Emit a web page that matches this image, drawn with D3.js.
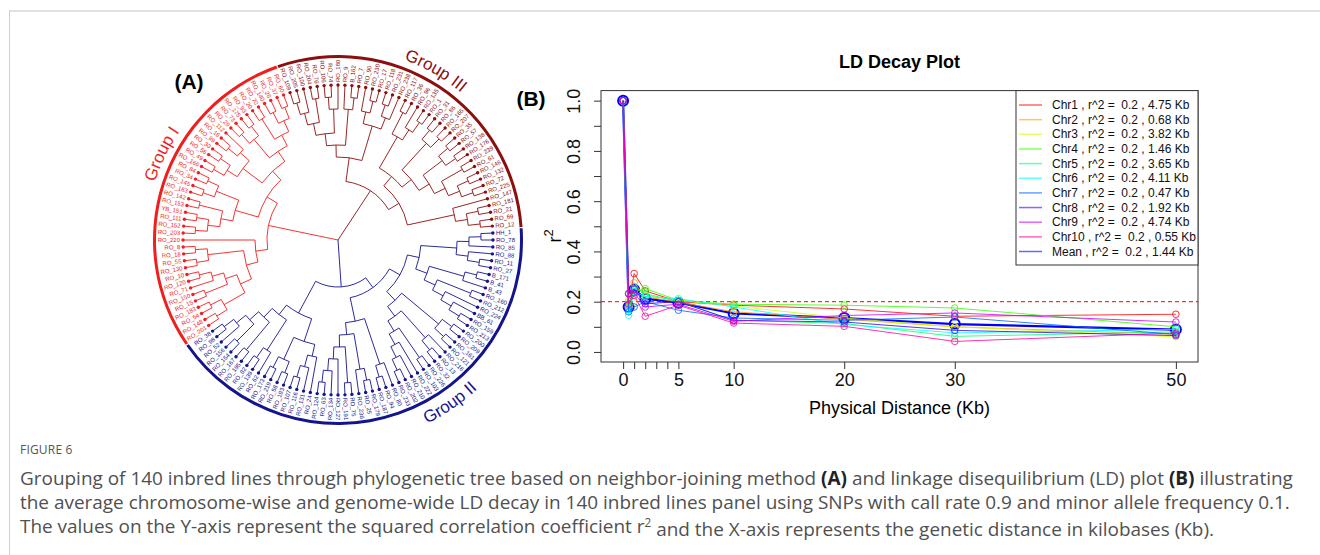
<!DOCTYPE html>
<html>
<head>
<meta charset="utf-8">
<script src="https://cdn.jsdelivr.net/npm/d3@7"></script>
<style>
  html, body { margin: 0; padding: 0; background: #fff; }
  svg { display: block; }
</style>
</head>
<body>
<svg id="fig" width="1320" height="555" font-family="Liberation Sans, Arial, Helvetica, sans-serif"></svg>
<script>
// ===== Panel A: neighbor-joining tree, clades in clockwise leaf order =====
const cladeIIIa = "(((((RO_109,RO_205),RO_100),(RO_204,RO_76)),((RO_106,RO_74),RO_180)),(RO_9,(B_162,RO_7)))";
const cladeIIIb = "((RO_90,(RO_230,RO_17)),((RO_118,RO_231),RO_238))";
const cladeIIIc = "(((RO_117,RO_36),(RO_96,(RO_135,RO_1))),(((RO_31,RO_86),(RO_165,RO_207)),(((RO_35,RO_57),(RO_138,RO_176)),((RO_239,RO_61),((RO_146,RO_132),(RO_72,RO_225))))))";
const cladeIIId = "(RO_147,((RO_181,RO_21),(RO_69,RO_12)))";

const cladeIIa = "((((HH_1,RO_78),RO_85),(RO_88,(RO_11,RO_27))),(((B_171,B_41),B_43),((RO_160,RO_212),(RO_224,(BB_61,(RO_159,RO_213))))))";
const cladeIIb = "(((RO_200,RO_209),(RO_161,RO_121)),((RO_216,(RO_13,RO_32)),((RO_226,RO_103),(RO_222,(RO_210,(RO_202,RO_233))))))";
const cladeIIc = "((RO_80,(RO_94,RO_187)),(((RO_179,RO_25),RO_236),((RO_75,RO_191),(RO_127,(RO_134,(RO_63,RO_124))))))";
const cladeIId = "(((RO_24,(RO_131,(RO_116,RO_107))),((RO_193,RO_58),(RO_219,RO_173))),((RO_62,(RO_139,RO_82)),((RO_195,RO_167),((RO_154,RO_156),(RO_52,(RO_98,RO_38))))))";

const cladeIa = "(((((RO_201,RO_148),(RO_54,RO_183)),((RO_15,RO_150),(RO_71,(RO_120,RO_10)))),((RO_130,RO_55),(RO_18,RO_8))),RO_220)";
const cladeIb = "((((RO_203,RO_152),(RO_111,YB_151)),(RO_153,RO_142)),((RO_163,RO_145),(RO_34,RO_84)))";
const cladeIc = "((((RO_166,RO_49),(RO_56,RO_30)),((RO_99,RO_16),RO_112)),(((RO_29,RO_73),(RO_175,RO_93)),((RO_20,RO_70),((RO_140,RO_26),(RO_37,RO_60)))))";

const groupNames = ["Group III", "Group II", "Group I"];
const groupColors = ["#8c0f0f", "#14148c", "#f01e1e"];
const groupNewick = [
  `((${cladeIIIa},${cladeIIIb}),(${cladeIIIc},${cladeIIId}))`,
  `(((${cladeIIa},${cladeIIb}),${cladeIIc}),${cladeIId})`,
  `(${cladeIa},(${cladeIb},${cladeIc}))`
];

// ===== Panel B: LD decay (r^2 against physical distance, Kb) =====
const distanceKb = [0, 0.5, 1, 2, 5, 10, 20, 30, 50];
const chrNames = ["Chr1", "Chr2", "Chr3", "Chr4", "Chr5", "Chr6", "Chr7", "Chr8", "Chr9", "Chr10"];
const chrColors = ["#FF0000", "#FF9900", "#CCFF00", "#33FF00", "#00FF66", "#00FFFF", "#0066FF", "#3300FF", "#CC00FF", "#FF0099"];
const chr1R2  = [1, 0.190, 0.312, 0.243, 0.200, 0.186, 0.171, 0.142, 0.150];
const chr2R2  = [1, 0.200, 0.275, 0.220, 0.198, 0.160, 0.130, 0.100, 0.070];
const chr3R2  = [1, 0.210, 0.200, 0.225, 0.205, 0.183, 0.135, 0.100, 0.060];
const chr4R2  = [1, 0.180, 0.240, 0.252, 0.205, 0.190, 0.186, 0.175, 0.100];
const chr5R2  = [1, 0.170, 0.260, 0.232, 0.200, 0.126, 0.113, 0.062, 0.080];
const chr6R2  = [1, 0.146, 0.240, 0.220, 0.212, 0.179, 0.109, 0.076, 0.090];
const chr7R2  = [1, 0.160, 0.179, 0.200, 0.166, 0.135, 0.126, 0.139, 0.070];
const chr8R2  = [1, 0.232, 0.250, 0.192, 0.200, 0.126, 0.119, 0.086, 0.065];
const chr9R2  = [1, 0.232, 0.235, 0.179, 0.190, 0.122, 0.145, 0.155, 0.119];
const chr10R2 = [1, 0.190, 0.225, 0.142, 0.186, 0.115, 0.102, 0.042, 0.075];
const meanR2  = [1, 0.179, 0.248, 0.212, 0.196, 0.153, 0.135, 0.111, 0.089];
const decayKb = ["4.75", "0.68", "3.82", "1.46", "3.65", "4.11", "0.47", "1.92", "4.74", "0.55"];
const meanDecayKb = "1.44";
const r2Threshold = 0.2;
const xTickValues = [0, 1, 2, 3, 4, 5, 10, 20, 30, 50];
const xTickLabels = [0, 5, 10, 20, 30, 50];
const yTickValues = [0, 0.1, 0.2, 0.3, 0.4, 0.5, 0.6, 0.7, 0.8, 0.9, 1.0];
const yTickLabels = [0, 0.2, 0.4, 0.6, 0.8, 1.0];

// ===== Caption =====
const figureLabel = "FIGURE 6";
const captionLines = [
  [["Grouping of 140 inbred lines through phylogenetic tree based on neighbor-joining method ", 0], ["(A)", 1],
   [" and linkage disequilibrium (LD) plot ", 0], ["(B)", 1], [" illustrating", 0]],
  [["the average chromosome-wise and genome-wide LD decay in 140 inbred lines panel using SNPs with call rate 0.9 and minor allele frequency 0.1.", 0]],
  [["The values on the Y-axis represent the squared correlation coefficient r", 0], ["2", 2],
   [" and the X-axis represents the genetic distance in kilobases (Kb).", 0]]
];

const svg = d3.select("#fig");

// page frame
svg.append("line").attr("x1", 9).attr("x2", 1320).attr("y1", 11).attr("y2", 11)
  .attr("stroke", "#e2e2e2").attr("stroke-width", 2);
svg.append("line").attr("x1", 9.5).attr("x2", 9.5).attr("y1", 10).attr("y2", 555)
  .attr("stroke", "#cfcfcf").attr("stroke-width", 1);

// ---------- tree ----------
function parseNewick(str) {
  let i = 0;
  function parse() {
    if (str[i] === "(") {
      i++;
      const children = [parse()];
      while (str[i] === ",") { i++; children.push(parse()); }
      i++;
      return { children };
    }
    let name = "";
    while (i < str.length && !",()".includes(str[i])) name += str[i++];
    return { name: name.trim() };
  }
  return parse();
}

const treeCx = 338, treeCy = 240, tipR = 155, levelStep = 12;
const treeData = { children: groupNewick.map((s, g) => Object.assign(parseNewick(s), { group: g })) };
const root = d3.hierarchy(treeData);
d3.cluster().size([360, 1]).separation(() => 1)(root);
root.each(n => { if (n.depth >= 1) n.group = n.ancestors().find(a => a.depth === 1).data.group; });
const leaves = root.leaves();
const angleOffset = -18 - leaves[0].x;
root.each(n => {
  n.angle = n.x + angleOffset;
  n.r = n.children ? (n.depth === 0 ? 0 : tipR - n.height * levelStep) : tipR;
});

function polar(a, r) {
  const t = a * Math.PI / 180;
  return [treeCx + r * Math.sin(t), treeCy - r * Math.cos(t)];
}

const treeG = svg.append("g").attr("fill", "none").attr("stroke-width", 0.9);
root.each(n => {
  if (!n.children) return;
  if (n.depth > 0) {
    const a1 = n.children[0].angle, a2 = n.children[n.children.length - 1].angle;
    const p1 = polar(a1, n.r), p2 = polar(a2, n.r);
    treeG.append("path")
      .attr("d", `M${p1}A${n.r},${n.r} 0 ${a2 - a1 > 180 ? 1 : 0} 1 ${p2}`)
      .attr("stroke", groupColors[n.group]);
  }
  n.children.forEach(c => {
    const p1 = polar(c.angle, n.r), p2 = polar(c.angle, c.r);
    treeG.append("path").attr("d", `M${p1}L${p2}`).attr("stroke", groupColors[c.group]);
  });
});

// tip dots and labels
const tipG = svg.append("g");
leaves.forEach(l => {
  const p = polar(l.angle, tipR);
  tipG.append("circle").attr("cx", p[0]).attr("cy", p[1]).attr("r", 1.7).attr("fill", groupColors[l.group]);
  const a = ((l.angle % 360) + 360) % 360;
  const flip = a > 180;
  const q = polar(l.angle, tipR + 3);
  tipG.append("text")
    .attr("transform", `translate(${q[0]},${q[1]}) rotate(${a - 90 + (flip ? 180 : 0)})`)
    .attr("text-anchor", flip ? "end" : "start")
    .attr("dominant-baseline", "central")
    .attr("font-size", 6)
    .attr("fill", groupColors[l.group])
    .text(l.data.name);
});

// group strips
const groupNodes = root.children;
const stripArc = d3.arc().innerRadius(182).outerRadius(185);
groupNodes.forEach(g => {
  const gl = g.leaves();
  const a1 = gl[0].angle - 1.1, a2 = gl[gl.length - 1].angle + 1.1;
  svg.append("path")
    .attr("transform", `translate(${treeCx},${treeCy})`)
    .attr("d", stripArc({ startAngle: a1 * Math.PI / 180, endAngle: a2 * Math.PI / 180 }))
    .attr("fill", groupColors[g.group]);
});

// group names written along the strips
const groupLabelAngle = [30, 145.5, 296];
const defs = svg.append("defs");
groupNodes.forEach((g, i) => {
  const a = groupLabelAngle[g.group];
  const bottom = a > 90 && a < 270;
  const r = bottom ? 204 : 192;
  const s = bottom ? a + 50 : a - 50, e = bottom ? a - 50 : a + 50;
  const p1 = polar(s, r), p2 = polar(e, r);
  defs.append("path").attr("id", "gpath" + i)
    .attr("d", `M${p1}A${r},${r} 0 0 ${bottom ? 0 : 1} ${p2}`);
  svg.append("text").attr("font-size", 17).attr("fill", groupColors[g.group])
    .append("textPath").attr("href", "#gpath" + i)
    .attr("startOffset", "50%").attr("text-anchor", "middle")
    .text(groupNames[g.group]);
});

svg.append("text").attr("x", 189).attr("y", 81).attr("text-anchor", "middle")
  .attr("dominant-baseline", "central").attr("font-size", 21).attr("font-weight", "bold")
  .text("(A)");

// ---------- LD decay plot ----------
const x = d3.scaleLinear().domain([-2, 52]).range([601, 1198]);
const y = d3.scaleLinear().domain([-0.04, 1.04]).range([362, 90.6]);

svg.append("text").attr("x", 531).attr("y", 98).attr("text-anchor", "middle")
  .attr("dominant-baseline", "central").attr("font-size", 21).attr("font-weight", "bold")
  .text("(B)");

svg.append("text").attr("x", 899.5).attr("y", 62).attr("text-anchor", "middle")
  .attr("dominant-baseline", "central").attr("font-size", 18).attr("font-weight", "bold")
  .text("LD Decay Plot");

const xAxis = svg.append("g").attr("transform", "translate(0,362)")
  .call(d3.axisBottom(x).tickValues(xTickValues).tickSize(7).tickPadding(4)
    .tickFormat(d => xTickLabels.includes(d) ? d : ""));
xAxis.select(".domain").remove();
xAxis.selectAll("line").attr("stroke", "#333");
xAxis.selectAll("text").attr("font-size", 18).attr("fill", "#111")
  .attr("font-family", "Liberation Sans, Arial, sans-serif");

const yAxis = svg.append("g").attr("transform", "translate(601,0)")
  .call(d3.axisLeft(y).tickValues(yTickValues).tickSize(7)
    .tickFormat(d => yTickLabels.some(v => Math.abs(v - d) < 1e-9) ? d.toFixed(1) : ""));
yAxis.select(".domain").remove();
yAxis.selectAll("line").attr("stroke", "#333");
yAxis.selectAll("text").attr("font-size", 18).attr("fill", "#111")
  .attr("font-family", "Liberation Sans, Arial, sans-serif")
  .attr("transform", "rotate(-90)").attr("x", 0).attr("y", -27).attr("dy", null)
  .attr("text-anchor", "middle").attr("dominant-baseline", "central");

svg.append("text").attr("x", 899.5).attr("y", 408).attr("text-anchor", "middle")
  .attr("dominant-baseline", "central").attr("font-size", 18)
  .text("Physical Distance (Kb)");

const yLab = svg.append("text").attr("transform", "translate(555,236) rotate(-90)")
  .attr("text-anchor", "middle").attr("dominant-baseline", "central").attr("font-size", 18);
yLab.append("tspan").text("r");
yLab.append("tspan").attr("font-size", 13).attr("dy", -7).text("2");

// threshold line
svg.append("line").attr("x1", 601).attr("x2", 1198).attr("y1", y(r2Threshold)).attr("y2", y(r2Threshold))
  .attr("stroke", "#ff0000").attr("stroke-width", 1).attr("stroke-dasharray", "4,3");

// genome-wide mean first, chromosome curves drawn over it
const chrSeries = [chr1R2, chr2R2, chr3R2, chr4R2, chr5R2, chr6R2, chr7R2, chr8R2, chr9R2, chr10R2];
const line = d3.line().x((d, i) => x(distanceKb[i])).y(d => y(d));
const plotG = svg.append("g").attr("fill", "none");
plotG.append("path").attr("d", line(meanR2)).attr("stroke", "#0000ff").attr("stroke-width", 2.2);
meanR2.forEach((v, i) => plotG.append("circle").attr("cx", x(distanceKb[i])).attr("cy", y(v)).attr("r", 5)
  .attr("stroke", "#0000ff").attr("stroke-width", 2));
chrSeries.forEach((s, k) => {
  plotG.append("path").attr("d", line(s)).attr("stroke", chrColors[k]).attr("stroke-width", 1).attr("stroke-opacity", 0.8);
  s.forEach((v, i) => plotG.append("circle").attr("cx", x(distanceKb[i])).attr("cy", y(v)).attr("r", 3.3)
    .attr("stroke", chrColors[k]).attr("stroke-opacity", 0.8).attr("stroke-width", 1));
});

// plot frame
svg.append("rect").attr("x", 601).attr("y", 90.6).attr("width", 597).attr("height", 271.4)
  .attr("fill", "none").attr("stroke", "#333").attr("stroke-width", 1);

// legend
const legG = svg.append("g");
legG.append("rect").attr("x", 1016).attr("y", 90.6).attr("width", 182).attr("height", 174.4)
  .attr("fill", "#fff").attr("stroke", "#333").attr("stroke-width", 1);
const legendEntries = chrNames.map((n, k) => ({ text: `${n} , r^2 =  ${r2Threshold} , ${decayKb[k]} Kb`, color: chrColors[k] }))
  .concat([{ text: `Mean , r^2 =  ${r2Threshold} , ${meanDecayKb} Kb`, color: "#0000ff" }]);
legendEntries.forEach((e, i) => {
  const yy = 105 + i * 14.65;
  legG.append("line").attr("x1", 1019).attr("x2", 1042).attr("y1", yy).attr("y2", yy)
    .attr("stroke", e.color).attr("stroke-opacity", 0.6).attr("stroke-width", 1.5);
  legG.append("text").attr("x", 1052).attr("y", yy).attr("dominant-baseline", "central")
    .attr("font-size", 12).style("white-space", "pre").attr("fill", "#111").text(e.text);
});

// ---------- caption ----------
const capFont = "'Open Sans', 'Noto Sans', sans-serif";
svg.append("text").attr("x", 20).attr("y", 449).attr("dominant-baseline", "central")
  .attr("font-family", capFont).attr("font-size", 12).attr("fill", "#555")
  .attr("letter-spacing", 0.2).text(figureLabel);

const capLineY = [478, 502, 526];
const capTexts = captionLines.map((segs, li) => {
  const t = svg.append("text").attr("x", 20).attr("y", capLineY[li]).attr("dominant-baseline", "central")
    .attr("font-family", capFont).attr("font-size", 16).attr("fill", "#505050")
    .style("white-space", "pre");
  segs.forEach(([s, kind], si) => {
    if (kind === 2) {
      t.append("tspan").attr("font-size", "62%").attr("dy", "-0.35em").text(s);
    } else {
      const sp = t.append("tspan").text(s);
      if (kind === 1) sp.attr("font-weight", "bold").attr("fill", "#222");
      if (si > 0 && segs[si - 1][1] === 2) sp.attr("dy", "0.35em");
    }
  });
  return t;
});
const w1 = capTexts[0].node().getComputedTextLength();
const capSize = 16 * 1273 / w1;
capTexts.forEach(t => t.attr("font-size", capSize));
</script>
</body>
</html>
